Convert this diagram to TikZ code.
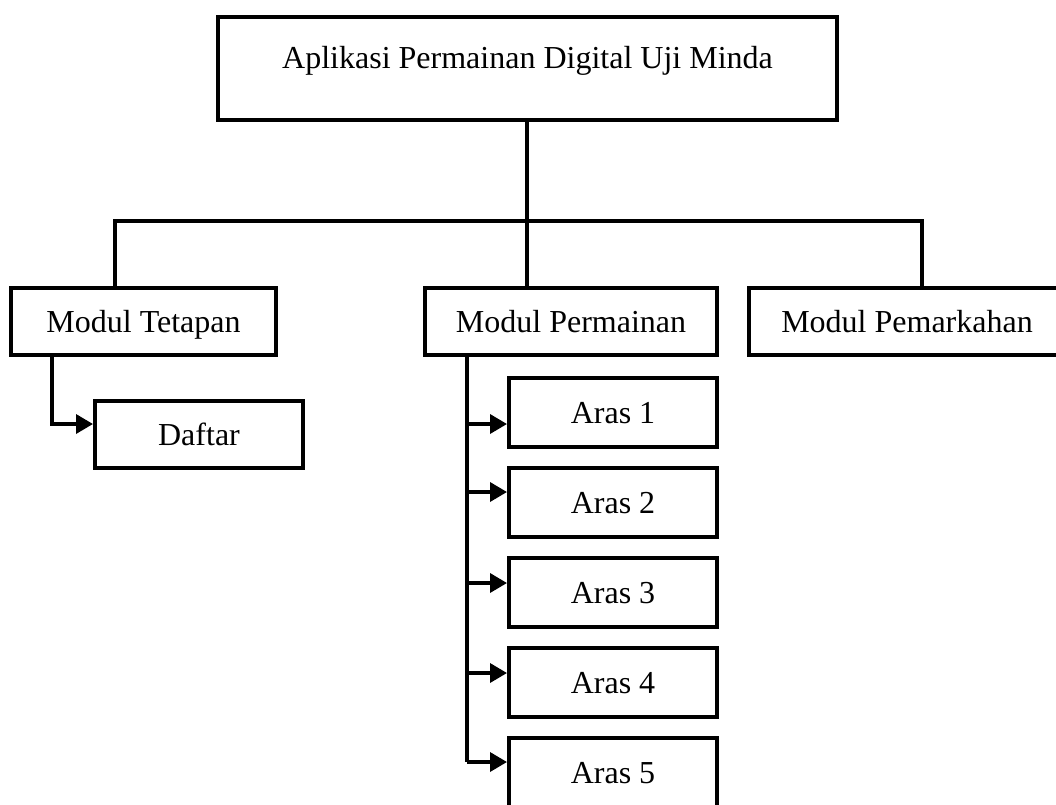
\documentclass[tikz,border=0pt]{standalone}
\usepackage{fontspec}
\setmainfont{Liberation Serif}
\usetikzlibrary{arrows.meta}
\begin{document}
\begin{tikzpicture}[x=1pt,y=-1pt,
  box/.style={draw=black,line width=4pt,rectangle,inner sep=0pt,fill=white,
    text height=21pt,text depth=0pt},
  conn/.style={draw=black,line width=3.5pt},
  arr/.style={conn,-{Triangle[length=17pt,width=19pt]}},
  lbl/.style={font=\fontsize{32}{38}\selectfont,inner sep=0pt}]
\useasboundingbox (0,0) rectangle (1056,804);
% top box
\node[box,minimum width=619pt,minimum height=103pt] (top) at (527.5,68.5) {};
\node[lbl,anchor=base] (toptext) at (527.5,68) {Aplikasi Permainan Digital Uji Minda};
% second level
\node[box,lbl,minimum width=265pt,minimum height=67pt] (tetapan) at (143.5,321.5) {Modul Tetapan};
\node[box,lbl,minimum width=292pt,minimum height=67pt] (permainan) at (571,321.5) {Modul Permainan};
\node[box,lbl,minimum width=316pt,minimum height=67pt] (pemarkahan) at (907,321.5) {Modul Pemarkahan};
% daftar
\node[box,lbl,minimum width=208pt,minimum height=67pt] (daftar) at (199,434.5) {Daftar};
% aras
\foreach \i/\y in {1/412.5,2/502.5,3/592.5,4/682.5,5/772.5}{
  \node[box,lbl,minimum width=208pt,minimum height=69pt] (a\i) at (613,\y) {Aras \i};
}
% coordinates
\coordinate (hM) at (527,221);
\coordinate (hL) at (115,221);
\coordinate (hR) at (922,221);
\coordinate (dl) at (52,0);
\coordinate (sp) at (467,762);
% tree connectors
\draw[conn] (top.south -| hM) -- (hM);
\draw[conn] (tetapan.north -| hL) -- (hL) -- (hR) -- (pemarkahan.north -| hR);
\draw[conn] (hM) -- (permainan.north -| hM);
% daftar arrow
\coordinate (td) at ([yshift=10.5pt]daftar.west);
\draw[arr] (tetapan.south -| dl) |- (td);
% aras spine and arrows
\draw[conn] (permainan.south -| sp) -- (sp);
\coordinate (t1) at ([yshift=-11.5pt]a1.west);
\coordinate (t2) at ([yshift=10.5pt]a2.west);
\coordinate (t3) at ([yshift=9.5pt]a3.west);
\coordinate (t4) at ([yshift=9.5pt]a4.west);
\coordinate (t5) at ([yshift=10.5pt]a5.west);
\foreach \i in {1,...,5}{
  \draw[arr] (t\i -| sp) -- (t\i);
}
\end{tikzpicture}
\end{document}
